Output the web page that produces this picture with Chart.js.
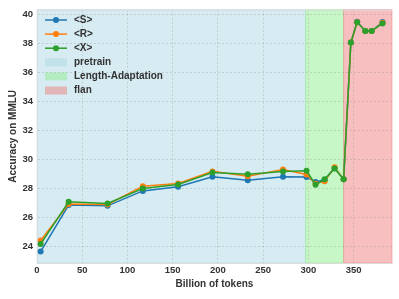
<!DOCTYPE html>
<html>
<head>
<meta charset="utf-8">
<script src="https://cdn.jsdelivr.net/npm/chart.js@4.4.0/dist/chart.umd.min.js"></script>
<style>
  body { margin: 0; background: #fff; }
  canvas { display: block; }
</style>
</head>
<body>
<canvas id="mmlu-chart" width="399" height="299"></canvas>
<script>
// billions of tokens at each checkpoint
const tokens = [4, 35, 78, 117, 156, 194, 233, 272, 298, 308, 318, 329, 339, 347, 354, 363, 370, 382];

// MMLU accuracy for each variant
const accS = [23.64, 26.85, 26.80, 27.83, 28.12, 28.81, 28.56, 28.81, 28.80, 28.44, 28.60, 29.42, 28.63, 38.08, 39.52, 38.88, 38.88, 39.50];
const accR = [24.41, 26.92, 26.90, 28.15, 28.35, 29.18, 28.85, 29.31, 28.97, 28.33, 28.50, 29.47, 28.63, 38.08, 39.48, 38.88, 38.88, 39.45];
const accX = [24.16, 27.08, 26.96, 27.99, 28.28, 29.10, 28.99, 29.18, 29.22, 28.26, 28.63, 29.38, 28.63, 38.08, 39.48, 38.88, 38.88, 39.40];

const seriesNames = ["<S>", "<R>", "<X>"];

// training phases (start, end in billions of tokens)
const phaseNames = ["pretrain", "Length-Adaptation", "flan"];
const phaseStart = [0, 297, 339];
const phaseEnd = [297, 339, 392.5];

const xTicks = [0, 50, 100, 150, 200, 250, 300, 350];
const yTicks = [24, 26, 28, 30, 32, 34, 36, 38, 40];

const lineColors = ["#1f77b4", "#ff7f0e", "#2ca02c"];
const phaseColors = ["rgba(173,216,230,0.5)", "rgba(144,238,144,0.5)", "rgba(240,128,128,0.5)"];
const textColor = "#333333";

function pairs(ys) {
    return tokens.map((t, i) => ({ x: t, y: ys[i] }));
}

// shaded spans behind everything
const phasePlugin = {
    id: "phases",
    beforeDraw(chart) {
        const ctx = chart.ctx;
        const xs = chart.scales.x;
        const area = chart.chartArea;
        ctx.save();
        for (let i = 0; i < phaseNames.length; i++) {
            const x0 = xs.getPixelForValue(phaseStart[i]);
            const x1 = xs.getPixelForValue(phaseEnd[i]);
            ctx.fillStyle = phaseColors[i];
            ctx.fillRect(x0, area.top, x1 - x0, area.bottom - area.top);
            ctx.strokeStyle = phaseColors[i];
            ctx.lineWidth = 1;
            ctx.strokeRect(x0, area.top, x1 - x0, area.bottom - area.top);
        }
        ctx.restore();
    },
    afterDraw(chart) {
        const ctx = chart.ctx;
        const area = chart.chartArea;
        ctx.save();
        // top edge of the frame
        ctx.strokeStyle = "#dcdcdc";
        ctx.lineWidth = 1;
        ctx.beginPath();
        ctx.moveTo(area.left, area.top + 0.5);
        ctx.lineTo(area.right, area.top + 0.5);
        ctx.stroke();

        // legend, drawn inside the plot at top left
        const lx = 45, lw = 22, tx = 74;
        let y = 20;
        const step = 14.1;
        ctx.font = "bold 10px 'Liberation Sans', Arial, sans-serif";
        ctx.textBaseline = "middle";
        ctx.textAlign = "left";
        for (let i = 0; i < seriesNames.length; i++) {
            ctx.strokeStyle = lineColors[i];
            ctx.lineWidth = 1.5;
            ctx.beginPath();
            ctx.moveTo(lx, y);
            ctx.lineTo(lx + lw, y);
            ctx.stroke();
            ctx.fillStyle = lineColors[i];
            ctx.beginPath();
            ctx.arc(lx + lw / 2, y, 3, 0, Math.PI * 2);
            ctx.fill();
            ctx.fillStyle = textColor;
            ctx.fillText(seriesNames[i], tx, y);
            y += step;
        }
        for (let i = 0; i < phaseNames.length; i++) {
            ctx.fillStyle = phaseColors[i];
            ctx.fillRect(lx, y - 4, lw, 8);
            ctx.fillStyle = textColor;
            ctx.fillText(phaseNames[i], tx, y);
            y += step;
        }
        ctx.restore();
    }
};

const tickFont = { family: "'Liberation Sans', Arial, sans-serif", size: 9.5, weight: "bold" };
const titleFont = { family: "'Liberation Sans', Arial, sans-serif", size: 10, weight: "bold" };
const gridStyle = { color: "rgba(140,140,140,0.3)", lineWidth: 1, drawTicks: false };

new Chart(document.getElementById("mmlu-chart"), {
    type: "line",
    data: {
        datasets: [accS, accR, accX].map((vals, i) => ({
            label: seriesNames[i],
            data: pairs(vals),
            borderColor: lineColors[i],
            backgroundColor: lineColors[i],
            borderWidth: 1.5,
            pointRadius: 3,
            pointBorderWidth: 0,
            pointBackgroundColor: lineColors[i],
            tension: 0,
            order: 3 - i // green on top
        }))
    },
    options: {
        responsive: false,
        devicePixelRatio: 1,
        animation: false,
        layout: { padding: { top: 7, right: 7, left: 0, bottom: 0 } },
        plugins: {
            legend: { display: false },
            tooltip: { enabled: false }
        },
        scales: {
            x: {
                type: "linear",
                min: 0,
                max: 392.5,
                afterBuildTicks: s => { s.ticks = xTicks.map(v => ({ value: v })); },
                afterFit: s => { s.height = 36; },
                grid: Object.assign({}, gridStyle),
                border: { display: true, color: "#dcdcdc", dash: [2, 2] },
                ticks: { font: tickFont, color: textColor, padding: 2, maxRotation: 0 },
                title: { display: true, text: "Billion of tokens", font: titleFont, color: textColor, padding: { top: 0, bottom: 9 } }
            },
            y: {
                min: 22.85,
                max: 40.35,
                afterBuildTicks: s => { s.ticks = yTicks.map(v => ({ value: v })); },
                afterFit: s => { s.width = 37; },
                grid: Object.assign({}, gridStyle),
                border: { display: true, color: "#dcdcdc", dash: [2, 2] },
                ticks: { font: tickFont, color: textColor, padding: 4 },
                title: { display: true, text: "Accuracy on MMLU", font: titleFont, color: textColor, padding: { top: 7, bottom: 0 } }
            }
        }
    },
    plugins: [phasePlugin]
});
</script>
</body>
</html>
